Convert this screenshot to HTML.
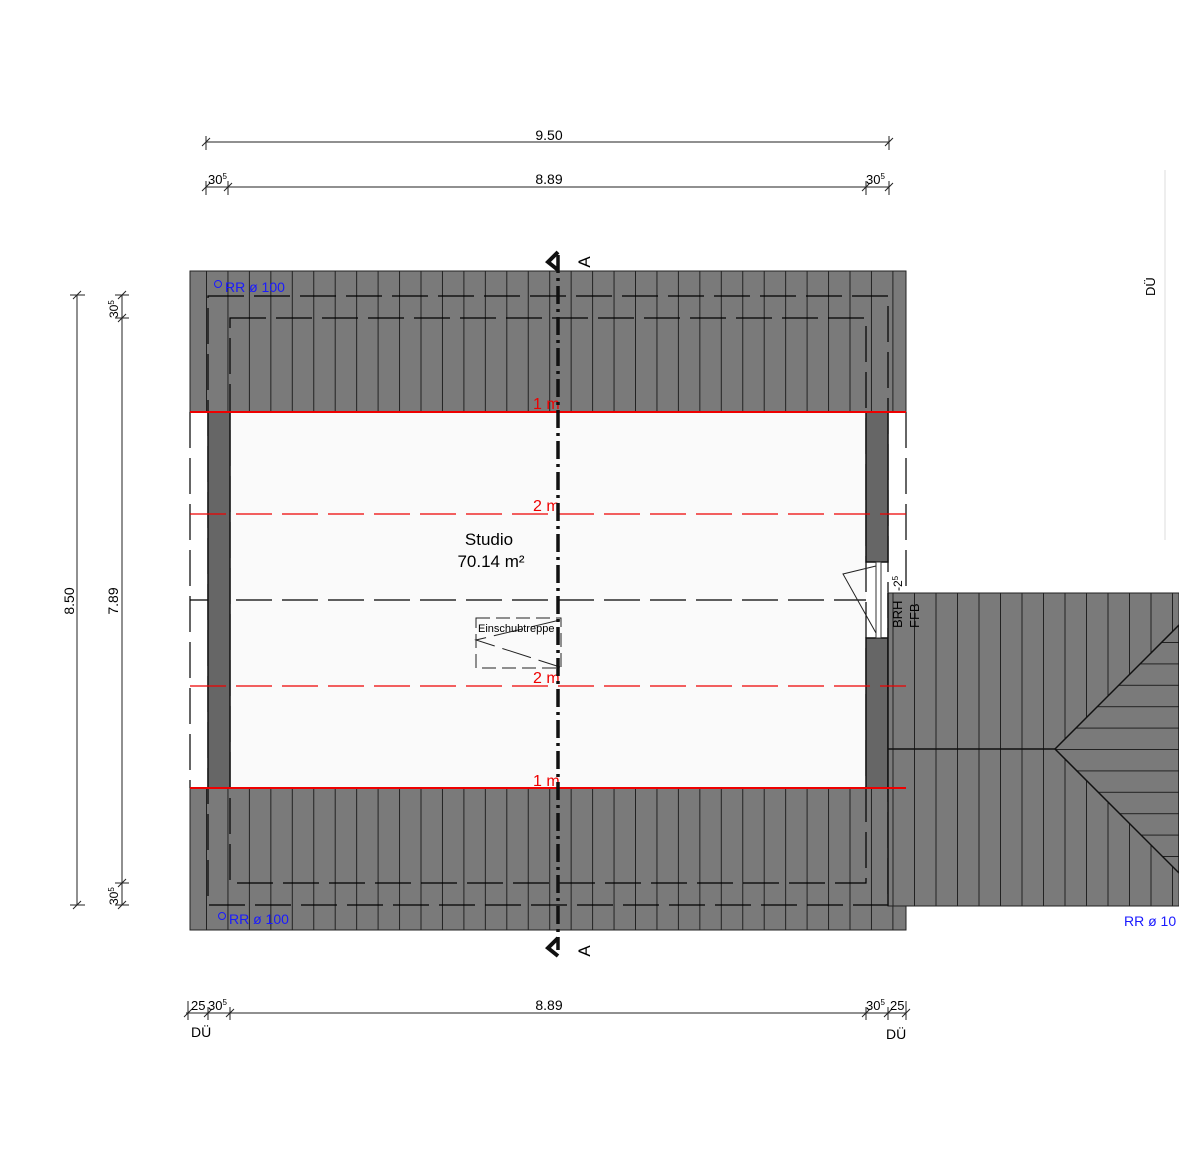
<!DOCTYPE html>
<html><head><meta charset="utf-8"><style>
body{margin:0;background:#fff}
svg{display:block}
text{font-family:"Liberation Sans",sans-serif}
</style></head><body>
<svg width="1179" height="1166" viewBox="0 0 1179 1166" xmlns="http://www.w3.org/2000/svg">
<defs>
<pattern id="pv" patternUnits="userSpaceOnUse" x="206" y="0" width="21.45" height="10"><rect width="21.45" height="10" fill="#7a7a7a"/><line x1="0.5" y1="0" x2="0.5" y2="10" stroke="#222" stroke-width="1"/></pattern>
<pattern id="pv2" patternUnits="userSpaceOnUse" x="914" y="0" width="21.5" height="10"><rect width="21.5" height="10" fill="#7a7a7a"/><line x1="0.5" y1="0" x2="0.5" y2="10" stroke="#222" stroke-width="1"/></pattern>
<pattern id="ph" patternUnits="userSpaceOnUse" x="0" y="642" width="10" height="21.4"><rect width="10" height="21.4" fill="#7a7a7a"/><line x1="0" y1="0.5" x2="10" y2="0.5" stroke="#222" stroke-width="1"/></pattern>
</defs>

<g stroke="#222" stroke-width="1" fill="none">
<line x1="206" y1="142" x2="889" y2="142"/>
<line x1="206" y1="136" x2="206" y2="150"/><line x1="889" y1="136" x2="889" y2="150"/>
<line x1="202" y1="146" x2="210" y2="138"/><line x1="885" y1="146" x2="893" y2="138"/>
<line x1="206" y1="187" x2="889" y2="187"/>
<line x1="206" y1="181" x2="206" y2="195"/><line x1="228" y1="181" x2="228" y2="195"/><line x1="866" y1="181" x2="866" y2="195"/><line x1="889" y1="181" x2="889" y2="195"/>
<line x1="202" y1="191" x2="210" y2="183"/><line x1="224" y1="191" x2="232" y2="183"/><line x1="862" y1="191" x2="870" y2="183"/><line x1="885" y1="191" x2="893" y2="183"/>
</g>
<text x="549" y="140" font-size="14" text-anchor="middle">9.50</text>
<text x="549" y="184" font-size="14" text-anchor="middle">8.89</text>
<text x="208" y="184" font-size="13">30<tspan font-size="8" dy="-5">5</tspan></text>
<text x="866" y="184" font-size="13">30<tspan font-size="8" dy="-5">5</tspan></text>

<g stroke="#222" stroke-width="1" fill="none">
<line x1="77" y1="295" x2="77" y2="905"/>
<line x1="70" y1="295" x2="85" y2="295"/><line x1="70" y1="905" x2="85" y2="905"/>
<line x1="73" y1="299" x2="81" y2="291"/><line x1="73" y1="909" x2="81" y2="901"/>
<line x1="122" y1="295" x2="122" y2="905"/>
<line x1="115" y1="295" x2="129" y2="295"/><line x1="115" y1="318" x2="129" y2="318"/><line x1="115" y1="883" x2="129" y2="883"/><line x1="115" y1="905" x2="129" y2="905"/>
<line x1="118" y1="299" x2="126" y2="291"/><line x1="118" y1="322" x2="126" y2="314"/><line x1="118" y1="887" x2="126" y2="879"/><line x1="118" y1="909" x2="126" y2="901"/>
</g>
<text transform="translate(74,601) rotate(-90)" font-size="14" text-anchor="middle">8.50</text>
<text transform="translate(118,601) rotate(-90)" font-size="14" text-anchor="middle">7.89</text>
<text transform="translate(118,318) rotate(-90)" font-size="12">30<tspan font-size="8" dy="-4">5</tspan></text>
<text transform="translate(118,905) rotate(-90)" font-size="12">30<tspan font-size="8" dy="-4">5</tspan></text>

<rect x="190" y="271" width="716" height="141" fill="url(#pv)" stroke="#222"/>
<rect x="190" y="788" width="716" height="142" fill="url(#pv)" stroke="#222"/>
<rect x="190" y="412" width="716" height="376" fill="#fff"/>
<rect x="230" y="412" width="636" height="376" fill="#fafafa"/>
<g stroke="#000" stroke-width="1.2" fill="none" stroke-dasharray="36,10">
<rect x="208" y="296" width="680" height="609"/>
<rect x="230" y="318" width="636" height="565"/>
<line x1="190" y1="412" x2="190" y2="788"/>
<line x1="906" y1="412" x2="906" y2="593"/>
<line x1="190" y1="600" x2="866" y2="600"/>
</g>
<rect x="208" y="412" width="22" height="376" fill="#666" stroke="#111" stroke-width="1.5"/>
<rect x="866" y="412" width="22" height="150" fill="#666" stroke="#111" stroke-width="1.5"/>
<rect x="866" y="638" width="22" height="150" fill="#666" stroke="#111" stroke-width="1.5"/>
<rect x="876" y="562" width="5" height="76" fill="#fff" stroke="#333"/>
<polyline points="876,566 843,574 876,633" fill="none" stroke="#222"/>

<rect x="888" y="593" width="291" height="313" fill="url(#pv2)" stroke="#222"/>
<polygon points="1055,749 1179,625 1179,873" fill="url(#ph)" stroke="#111" stroke-width="1.5"/>
<line x1="888" y1="749" x2="1055" y2="749" stroke="#111" stroke-width="1.5"/>
<line x1="888" y1="593" x2="888" y2="906" stroke="#111" stroke-width="1.5"/>
<text x="1124" y="926" font-size="14" fill="#1a1aff">RR ø 10</text>

<text transform="translate(902,628) rotate(-90)" font-size="13">BRH</text>
<text transform="translate(919,628) rotate(-90)" font-size="13">FFB</text>
<text transform="translate(902,591) rotate(-90)" font-size="12">-2<tspan font-size="8" dy="-4">5</tspan></text>

<line x1="190" y1="412" x2="906" y2="412" stroke="#e00" stroke-width="2"/>
<line x1="190" y1="788" x2="906" y2="788" stroke="#e00" stroke-width="2"/>
<g stroke="#e00" stroke-width="1.2" stroke-dasharray="36,10">
<line x1="190" y1="514" x2="906" y2="514"/>
<line x1="190" y1="686" x2="906" y2="686"/>
</g>
<text x="533" y="409" font-size="16" fill="#e00">1 m</text>
<text x="533" y="511" font-size="16" fill="#e00">2 m</text>
<text x="533" y="683" font-size="16" fill="#e00">2 m</text>
<text x="533" y="786" font-size="16" fill="#e00">1 m</text>

<text x="489" y="545" font-size="17" text-anchor="middle">Studio</text>
<text x="491" y="567" font-size="17" text-anchor="middle">70.14 m²</text>

<g stroke="#222" fill="none" stroke-dasharray="14,6">
<rect x="476" y="618" width="85" height="50"/>
</g>
<polyline points="560,620 476,640 560,667" fill="none" stroke="#222" stroke-dasharray="30,8"/>
<text x="478" y="632" font-size="11">Einschubtreppe</text>

<line x1="558" y1="255" x2="558" y2="950" stroke="#111" stroke-width="3.5" stroke-dasharray="18,5,3,5"/>
<polyline points="558,252 548,262 558,270" fill="none" stroke="#111" stroke-width="4"/>
<polyline points="558,938 548,948 558,956" fill="none" stroke="#111" stroke-width="4"/>
<text transform="translate(590,262) rotate(-90)" font-size="17" text-anchor="middle">A</text>
<text transform="translate(590,951) rotate(-90)" font-size="17" text-anchor="middle">A</text>

<circle cx="218" cy="284" r="3.5" fill="none" stroke="#1a1aff"/>
<text x="225" y="292" font-size="14" fill="#1a1aff">RR ø 100</text>
<circle cx="222" cy="916" r="3.5" fill="none" stroke="#1a1aff"/>
<text x="229" y="924" font-size="14" fill="#1a1aff">RR ø 100</text>

<g stroke="#222" stroke-width="1" fill="none">
<line x1="186" y1="1013" x2="906" y2="1013"/>
<line x1="188" y1="1001" x2="188" y2="1020"/><line x1="208" y1="1007" x2="208" y2="1020"/><line x1="230" y1="1007" x2="230" y2="1020"/>
<line x1="866" y1="1007" x2="866" y2="1020"/><line x1="888" y1="1007" x2="888" y2="1020"/><line x1="906" y1="1001" x2="906" y2="1020"/>
<line x1="184" y1="1017" x2="192" y2="1009"/><line x1="204" y1="1017" x2="212" y2="1009"/><line x1="226" y1="1017" x2="234" y2="1009"/>
<line x1="862" y1="1017" x2="870" y2="1009"/><line x1="884" y1="1017" x2="892" y2="1009"/><line x1="902" y1="1017" x2="910" y2="1009"/>
</g>
<text x="191" y="1010" font-size="13">25</text>
<text x="208" y="1010" font-size="13">30<tspan font-size="8" dy="-5">5</tspan></text>
<text x="549" y="1010" font-size="14" text-anchor="middle">8.89</text>
<text x="866" y="1010" font-size="13">30<tspan font-size="8" dy="-5">5</tspan></text>
<text x="890" y="1010" font-size="13">25</text>
<text x="191" y="1037" font-size="14">DÜ</text>
<text x="886" y="1039" font-size="14">DÜ</text>

<line x1="1165" y1="170" x2="1165" y2="540" stroke="#eee" stroke-width="2"/>
<text transform="translate(1155,296) rotate(-90)" font-size="13">DÜ</text>
</svg>
</body></html>
